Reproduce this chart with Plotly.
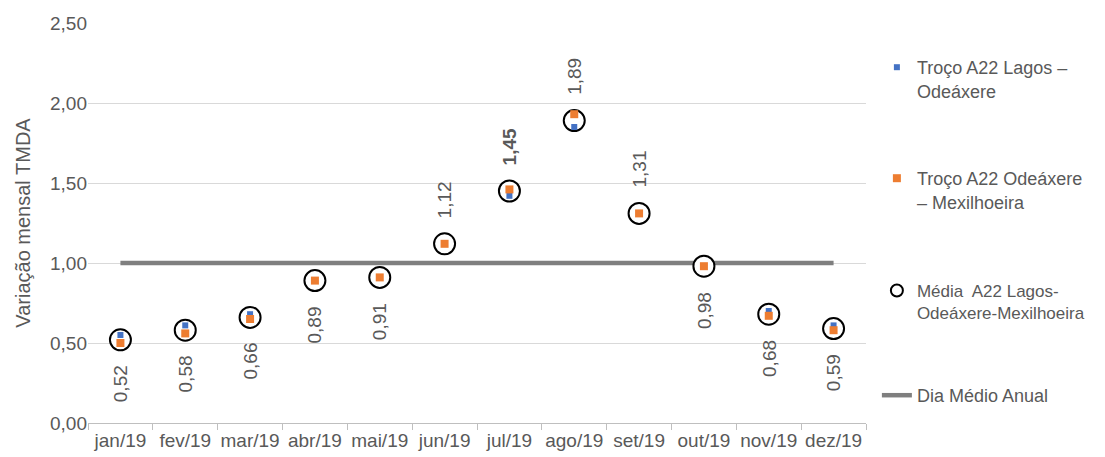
import plotly.graph_objects as go

months = ["jan/19", "fev/19", "mar/19", "abr/19", "mai/19", "jun/19",
          "jul/19", "ago/19", "set/19", "out/19", "nov/19", "dez/19"]
lagos_odeaxere = [0.55, 0.61, 0.68, 0.89, 0.91, 1.12, 1.42, 1.85, 1.31, 0.98, 0.70, 0.61]
odeaxere_mexilhoeira = [0.50, 0.56, 0.65, 0.89, 0.91, 1.12, 1.46, 1.93, 1.31, 0.98, 0.67, 0.58]
media = [0.52, 0.58, 0.66, 0.89, 0.91, 1.12, 1.45, 1.89, 1.31, 0.98, 0.68, 0.59]
dia_medio_anual = [1.0] * 12
label_above = [False, False, False, False, False, True, True, True, True, False, False, False]
label_bold = [False, False, False, False, False, False, True, False, False, False, False, False]

GRAY_TXT = "#595959"
FONT = "Liberation Sans, Arial, sans-serif"

fig = go.Figure()

fig.add_trace(go.Scatter(
    x=months, y=dia_medio_anual, mode="lines", name="Dia Médio Anual",
    line=dict(color="#7f7f7f", width=4.5), legend="legend4"))

fig.add_trace(go.Scatter(
    x=months, y=media, mode="markers",
    name="Média  A22 Lagos-<br>Odeáxere-Mexilhoeira",
    marker=dict(symbol="circle", size=21, color="white",
                line=dict(color="black", width=2)),
    legend="legend3"))

fig.add_trace(go.Scatter(
    x=months, y=lagos_odeaxere, mode="markers",
    name="Troço A22 Lagos –<br>Odeáxere",
    marker=dict(symbol="square", size=6, color="#4472C4"),
    legend="legend"))

fig.add_trace(go.Scatter(
    x=months, y=odeaxere_mexilhoeira, mode="markers",
    name="Troço A22 Odeáxere<br>– Mexilhoeira",
    marker=dict(symbol="square", size=8, color="#ED7D31"),
    legend="legend2"))

for m, v, above, bold in zip(months, media, label_above, label_bold):
    txt = f"{v:.2f}".replace(".", ",")
    if bold:
        txt = f"<b>{txt}</b>"
    fig.add_annotation(
        x=m, y=v, text=txt, showarrow=False, textangle=-90,
        yshift=44 if above else -44,
        font=dict(family=FONT, size=19, color=GRAY_TXT))

def leg(x, y, size=18, **kw):
    return dict(x=x, y=y, font=dict(family=FONT, size=size, color=GRAY_TXT),
                xanchor="left", yanchor="top", bgcolor="rgba(0,0,0,0)",
                valign="top", borderwidth=0, **kw)

LX = 1.014
fig.update_layout(
    width=1097, height=449,
    margin=dict(l=80, r=239, t=15, b=34),
    paper_bgcolor="white", plot_bgcolor="white",
    separators=", ",
    showlegend=True,
    font=dict(family=FONT, size=19, color=GRAY_TXT),
    legend=leg(LX, 0.935),
    legend2=leg(LX, 0.6575),
    legend3=leg(LX, 0.375, size=17, itemsizing="constant"),
    legend4=leg(LX, 0.115),
    xaxis=dict(type="category", showgrid=False, showline=True,
               linecolor="#bfbfbf", linewidth=1, ticks="outside",
               tickson="boundaries", tickcolor="#bfbfbf", ticklen=6,
               tickangle=0, automargin=False,
               tickfont=dict(family=FONT, size=19, color=GRAY_TXT),
               range=[-0.5, 11.5]),
    yaxis=dict(range=[0, 2.5], dtick=0.5, tickformat=".2f",
               showgrid=True, gridcolor="#d9d9d9", gridwidth=1,
               zeroline=False, showline=False, automargin=False,
               tickfont=dict(family=FONT, size=19, color=GRAY_TXT),
               title=dict(text="Variação mensal TMDA", standoff=14,
                          font=dict(family=FONT, size=20, color=GRAY_TXT))),
)

fig.write_html("out.html")
